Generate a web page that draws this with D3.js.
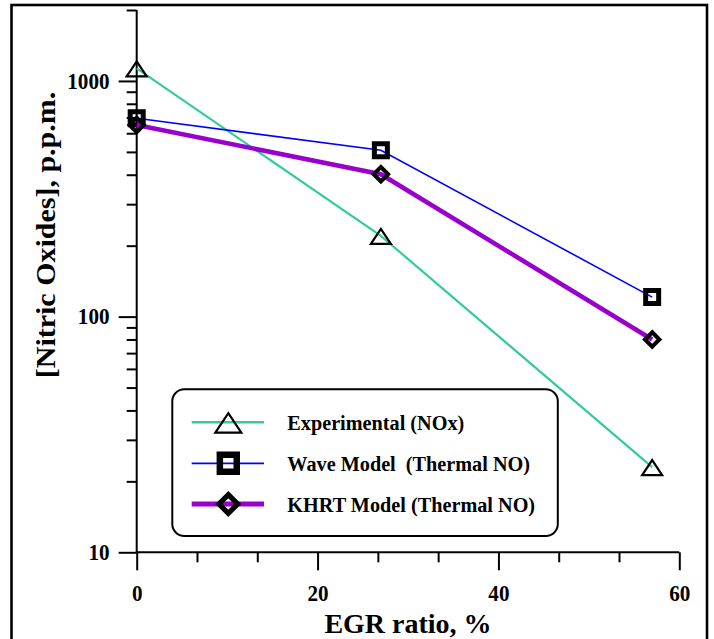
<!DOCTYPE html>
<html>
<head>
<meta charset="utf-8">
<script src="https://cdn.jsdelivr.net/npm/d3@7"></script>
<style>
  body { margin: 0; background: #fff; }
  text { font-family: "Liberation Serif", "Times New Roman", serif; font-weight: bold; }
</style>
</head>
<body>
<svg id="chart" width="714" height="639"></svg>
<script>
var egr = [0, 27, 57]
var experimental = [1130, 220, 23]
var waveModel = [695, 508, 121]
var khrtModel = [651, 402, 80]

var seriesNames = ["Experimental (NOx)", "Wave Model\u00a0 (Thermal NO)", "KHRT Model (Thermal NO)"]
var seriesColors = ["#33cc99", "#0000ff", "#9900cc"]
var seriesWidths = [2.2, 1.6, 4.6]
var seriesMarkers = ["triangle", "square", "diamond"]

var xMajor = [0, 20, 40, 60]
var xMinor = [20 / 3, 40 / 3, 80 / 3, 100 / 3, 140 / 3, 160 / 3]
var yMajor = [10, 100, 1000]
var yMinor = [20, 30, 40, 50, 60, 70, 80, 90, 200, 300, 400, 500, 600, 700, 800, 900, 2000]

var svg = d3.select("svg#chart")
var squeeze = 0.92

var x = d3.scaleLinear().domain([0, 60]).range([136.7, 679.3])
var y = d3.scaleLog().domain([10, 2000]).range([552.3, 10])

// outer frame
svg.append("rect")
    .attr("x", 11.5).attr("y", 5)
    .attr("width", 695.5).attr("height", 645)
    .attr("fill", "none").attr("stroke", "#000").attr("stroke-width", 2.6)

function styleAxis(g) {
    g.select(".domain").remove()
    g.selectAll("line").attr("stroke", "#000").attr("stroke-width", 2)
}

// x axis
svg.append("g").attr("transform", "translate(0," + y(10) + ")")
    .call(d3.axisBottom(x).tickValues(xMinor).tickSize(10).tickFormat(""))
    .call(styleAxis)
svg.append("g").attr("transform", "translate(0," + y(10) + ")")
    .call(d3.axisBottom(x).tickValues(xMajor).tickSize(18).tickPadding(14).tickFormat(d3.format("d")))
    .call(styleAxis)
    .call(g => g.selectAll("text")
        .attr("font-size", 23).attr("fill", "#000")
        .attr("transform", "scale(" + squeeze + ",1)"))

// y axis
svg.append("g").attr("transform", "translate(" + x(0) + ",0)")
    .call(d3.axisLeft(y).tickValues(yMinor).tickSize(10).tickFormat(""))
    .call(styleAxis)
svg.append("g").attr("transform", "translate(" + x(0) + ",0)")
    .call(d3.axisLeft(y).tickValues(yMajor).tickSize(18).tickPadding(11.5).tickFormat(d3.format("d")))
    .call(styleAxis)
    .call(g => g.selectAll("text")
        .attr("font-size", 23).attr("fill", "#000")
        .attr("transform", "scale(" + squeeze + ",1)"))

svg.append("line")
    .attr("x1", x(0)).attr("x2", x(60)).attr("y1", y(10)).attr("y2", y(10))
    .attr("stroke", "#000").attr("stroke-width", 2)
svg.append("line")
    .attr("x1", x(0)).attr("x2", x(0)).attr("y1", y(2000)).attr("y2", y(10))
    .attr("stroke", "#000").attr("stroke-width", 2)

// axis titles
svg.append("text")
    .attr("x", (x(0) + x(60)) / 2).attr("y", 633)
    .attr("text-anchor", "middle").attr("font-size", 28)
    .text("EGR ratio, %")

svg.append("text")
    .attr("transform", "translate(55,235) rotate(-90) scale(1," + squeeze + ")")
    .attr("text-anchor", "middle").attr("font-size", 30)
    .text("[Nitric Oxides], p.p.m.")

function markerPath(type, k) {
    if (type == "triangle") {
        return "M0," + (-7 * k) + "L" + (10 * k) + "," + (8 * k) + "L" + (-10 * k) + "," + (8 * k) + "Z"
    }
    if (type == "square") {
        var s = 6.5 * k
        return "M" + (-s) + "," + (-s) + "H" + s + "V" + s + "H" + (-s) + "Z"
    }
    var d = 7.2 * k
    return "M0," + (-d) + "L" + d + ",0L0," + d + "L" + (-d) + ",0Z"
}

var markerStroke = { triangle: 2.2, square: 5, diamond: 4 }

function addMarker(parent, type, cx, cy, k) {
    parent.append("path")
        .attr("d", markerPath(type, k))
        .attr("transform", "translate(" + cx + "," + cy + ")")
        .attr("fill", "none")
        .attr("stroke", "#000")
        .attr("stroke-width", markerStroke[type] * (type == "triangle" ? 1 : k))
        .attr("stroke-linejoin", "miter")
}

var allSeries = [experimental, waveModel, khrtModel]
var line = d3.line().x(d => x(d[0])).y(d => y(d[1]))

allSeries.forEach(function(values, i) {
    var pts = d3.zip(egr, values)
    var g = svg.append("g")
    g.append("path")
        .attr("d", line(pts))
        .attr("fill", "none")
        .attr("stroke", seriesColors[i])
        .attr("stroke-width", seriesWidths[i])
    pts.forEach(function(p) {
        addMarker(g, seriesMarkers[i], x(p[0]), y(p[1]), 1)
    })
})

// legend
var legend = svg.append("g")
legend.append("rect")
    .attr("x", 172.3).attr("y", 389.3)
    .attr("width", 385.5).attr("height", 146.7)
    .attr("rx", 12).attr("ry", 12)
    .attr("fill", "#fff").attr("stroke", "#000").attr("stroke-width", 2)

var legendRows = [422.3, 463.3, 504]

seriesNames.forEach(function(name, i) {
    var ry = legendRows[i]
    legend.append("line")
        .attr("x1", 191.7).attr("x2", 264).attr("y1", ry).attr("y2", ry)
        .attr("stroke", seriesColors[i])
        .attr("stroke-width", i == 1 ? 1.8 : seriesWidths[i] + 0.3)
    addMarker(legend, seriesMarkers[i], 228.3, ry, i == 0 ? 1.3 : 1.3)
    legend.append("text")
        .attr("transform", "translate(287.3," + (ry + 7.7) + ") scale(" + squeeze + ",1)")
        .attr("font-size", 22)
        .text(name)
})
</script>
</body>
</html>
